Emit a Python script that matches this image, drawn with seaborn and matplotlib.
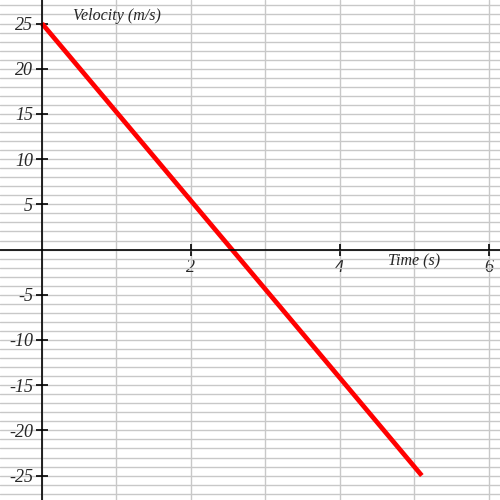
import matplotlib
matplotlib.use('Agg')
import matplotlib.pyplot as plt
import seaborn as sns
import pandas as pd
from matplotlib.ticker import MultipleLocator, FixedLocator

# values
time_s = [0.0, 1.0, 2.0, 3.0, 4.0, 5.1]
velocity = [25.0, 15.2, 5.4, -4.4, -14.2, -25.0]
x_ticks = [2, 4, 6]
y_ticks = [-25, -20, -15, -10, -5, 5, 10, 15, 20, 25]

data = pd.DataFrame({'t': time_s, 'v': velocity})

sns.set_style('white')
plt.rcParams['font.family'] = ['Liberation Serif', 'DejaVu Serif']
plt.rcParams['axes.unicode_minus'] = False

fig = plt.figure(figsize=(5, 5), dpi=100)
ax = fig.add_axes([0, 0, 1, 1])

sns.lineplot(x='t', y='v', data=data, color='#ff0000', linewidth=3.4, ax=ax,
             solid_capstyle='butt')

ax.set_xlim(-0.564, 6.15)
ax.set_ylim(-27.7, 27.6)

ax.xaxis.set_major_locator(FixedLocator(x_ticks))
ax.yaxis.set_major_locator(FixedLocator(y_ticks))
ax.xaxis.set_minor_locator(MultipleLocator(1))
ax.yaxis.set_minor_locator(MultipleLocator(1))
ax.grid(True, which='both', color='#c8c8c8', linewidth=1)
ax.set_axisbelow(True)

for side in ['top', 'right']:
    ax.spines[side].set_visible(False)
ax.spines['left'].set_position(('data', 0))
ax.spines['bottom'].set_position(('data', 0))
for side in ['left', 'bottom']:
    ax.spines[side].set_color('black')
    ax.spines[side].set_linewidth(1.2)

ax.tick_params(which='major', direction='inout', length=9, width=1.2,
               color='black', labelsize=13, bottom=True, left=True)
ax.tick_params(which='minor', length=0)
ax.tick_params(axis='y', pad=2)
ax.tick_params(axis='x', pad=2)
for lbl in ax.get_xticklabels() + ax.get_yticklabels():
    lbl.set_style('italic')

ax.set_xlabel('')
ax.set_ylabel('')
ax.text(0.416, 25.8, 'Velocity (m/s)', style='italic', fontsize=11.5,
        va='center', ha='left')
ax.text(4.64, -1.33, 'Time (s)', style='italic', fontsize=11.5,
        va='center', ha='left')

fig.savefig('out.png', dpi=100)
